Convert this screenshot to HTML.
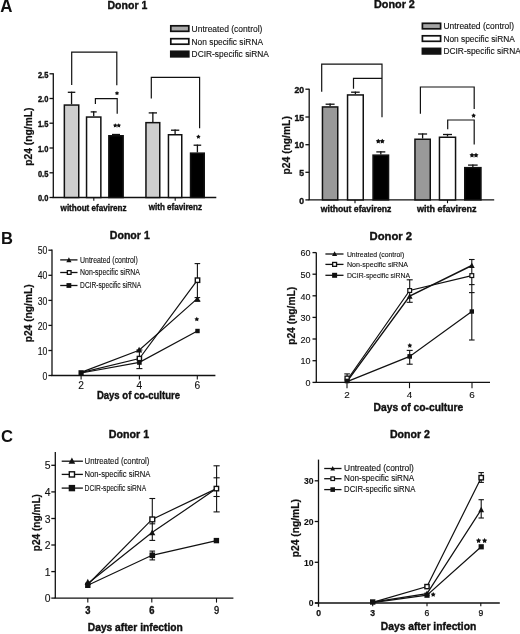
<!DOCTYPE html>
<html><head><meta charset="utf-8"><title>Figure</title>
<style>
html,body{margin:0;padding:0;background:#fff;}
body{width:520px;height:634px;overflow:hidden;}
svg{display:block;will-change:transform;}
svg text{font-family:"Liberation Sans", sans-serif;-webkit-font-smoothing:antialiased;}
</style></head>
<body>
<svg width="520" height="634" viewBox="0 0 520 634">
<rect x="0" y="0" width="520" height="634" fill="#fff"/>
<text x="0.3" y="12.4" font-size="17.8" font-weight="bold" text-anchor="start" fill="#111" textLength="12.2" lengthAdjust="spacingAndGlyphs" stroke="none">A</text>
<text x="1.0" y="243.5" font-size="17.2" font-weight="bold" text-anchor="start" fill="#111" textLength="12.0" lengthAdjust="spacingAndGlyphs" stroke="none">B</text>
<text x="1.0" y="441.8" font-size="17.2" font-weight="bold" text-anchor="start" fill="#111" textLength="12.0" lengthAdjust="spacingAndGlyphs" stroke="none">C</text>
<text x="107.5" y="8.8" font-size="10.5" font-weight="bold" text-anchor="start" fill="#111" textLength="39.8" lengthAdjust="spacingAndGlyphs" stroke="#111" stroke-width="0.38">Donor 1</text>
<rect x="170.8" y="25.8" width="18.0" height="5.5" fill="#aaa" stroke="#111" stroke-width="1.7"/>
<text x="191.6" y="31.9" font-size="8.3" font-weight="normal" text-anchor="start" fill="#111" textLength="70.8" lengthAdjust="spacingAndGlyphs" stroke="#111" stroke-width="0.12">Untreated (control)</text>
<rect x="170.8" y="38.699999999999996" width="18.0" height="5.5" fill="#fff" stroke="#111" stroke-width="1.7"/>
<text x="191.6" y="44.8" font-size="8.3" font-weight="normal" text-anchor="start" fill="#111" textLength="71.4" lengthAdjust="spacingAndGlyphs" stroke="#111" stroke-width="0.12">Non specific siRNA</text>
<rect x="170.8" y="51.3" width="18.0" height="5.5" fill="#111" stroke="#111" stroke-width="1.7"/>
<text x="191.6" y="57.4" font-size="8.3" font-weight="normal" text-anchor="start" fill="#111" textLength="77.3" lengthAdjust="spacingAndGlyphs" stroke="#111" stroke-width="0.12">DCIR-specific siRNA</text>
<line x1="53.3" y1="73.3" x2="53.3" y2="197.5" stroke="#111" stroke-width="1.3"/>
<line x1="49.5" y1="73.8" x2="53.3" y2="73.8" stroke="#111" stroke-width="1.3"/>
<text x="48.3" y="77.6" font-size="8.2" font-weight="bold" text-anchor="end" fill="#111" textLength="10.4" lengthAdjust="spacingAndGlyphs" stroke="#111" stroke-width="0.38">2.5</text>
<line x1="49.5" y1="98.5" x2="53.3" y2="98.5" stroke="#111" stroke-width="1.3"/>
<text x="48.3" y="102.3" font-size="8.2" font-weight="bold" text-anchor="end" fill="#111" textLength="10.4" lengthAdjust="spacingAndGlyphs" stroke="#111" stroke-width="0.38">2.0</text>
<line x1="49.5" y1="123.2" x2="53.3" y2="123.2" stroke="#111" stroke-width="1.3"/>
<text x="48.3" y="127.0" font-size="8.2" font-weight="bold" text-anchor="end" fill="#111" textLength="10.4" lengthAdjust="spacingAndGlyphs" stroke="#111" stroke-width="0.38">1.5</text>
<line x1="49.5" y1="148.0" x2="53.3" y2="148.0" stroke="#111" stroke-width="1.3"/>
<text x="48.3" y="151.8" font-size="8.2" font-weight="bold" text-anchor="end" fill="#111" textLength="10.4" lengthAdjust="spacingAndGlyphs" stroke="#111" stroke-width="0.38">1.0</text>
<line x1="49.5" y1="172.8" x2="53.3" y2="172.8" stroke="#111" stroke-width="1.3"/>
<text x="48.3" y="176.60000000000002" font-size="8.2" font-weight="bold" text-anchor="end" fill="#111" textLength="10.4" lengthAdjust="spacingAndGlyphs" stroke="#111" stroke-width="0.38">0.5</text>
<line x1="49.5" y1="197.5" x2="53.3" y2="197.5" stroke="#111" stroke-width="1.3"/>
<text x="48.3" y="201.3" font-size="8.2" font-weight="bold" text-anchor="end" fill="#111" textLength="10.4" lengthAdjust="spacingAndGlyphs" stroke="#111" stroke-width="0.38">0.0</text>
<line x1="52.6" y1="197.5" x2="216.3" y2="197.5" stroke="#111" stroke-width="1.3"/>
<line x1="93.8" y1="197.5" x2="93.8" y2="200.8" stroke="#111" stroke-width="1.1"/>
<line x1="175.2" y1="197.5" x2="175.2" y2="200.8" stroke="#111" stroke-width="1.1"/>
<text x="60.6" y="210.6" font-size="8.9" font-weight="bold" text-anchor="start" fill="#111" textLength="66" lengthAdjust="spacingAndGlyphs" stroke="#111" stroke-width="0.38">without efavirenz</text>
<text x="148.7" y="210.4" font-size="8.9" font-weight="bold" text-anchor="start" fill="#111" textLength="53.4" lengthAdjust="spacingAndGlyphs" stroke="#111" stroke-width="0.38">with efavirenz</text>
<text x="31.6" y="136.6" font-size="10.3" font-weight="bold" text-anchor="middle" fill="#111" textLength="58.3" lengthAdjust="spacingAndGlyphs" transform="rotate(-90 31.6 136.6)" stroke="#111" stroke-width="0.2">p24 (ng/mL)</text>
<rect x="64.35" y="105.05" width="14.399999999999999" height="92.45" fill="#cecece" stroke="#111" stroke-width="1.5"/>
<line x1="71.55" y1="104.3" x2="71.55" y2="91.7" stroke="#111" stroke-width="1.3"/>
<line x1="67.8" y1="92.3" x2="75.3" y2="92.3" stroke="#111" stroke-width="1.3"/>
<rect x="86.55" y="117.05" width="14.299999999999997" height="80.45" fill="#fff" stroke="#111" stroke-width="1.5"/>
<line x1="93.69999999999999" y1="116.3" x2="93.69999999999999" y2="111.3" stroke="#111" stroke-width="1.3"/>
<line x1="90.69999999999999" y1="111.89999999999999" x2="96.69999999999999" y2="111.89999999999999" stroke="#111" stroke-width="1.3"/>
<rect x="108.85" y="135.75" width="14.300000000000011" height="61.75" fill="#000" stroke="#111" stroke-width="1.5"/>
<line x1="116.0" y1="135.0" x2="116.0" y2="133.9" stroke="#111" stroke-width="1.3"/>
<line x1="112.0" y1="134.5" x2="120.0" y2="134.5" stroke="#111" stroke-width="1.3"/>
<rect x="145.95" y="122.65" width="13.800000000000011" height="74.85" fill="#cecece" stroke="#111" stroke-width="1.5"/>
<line x1="152.85" y1="121.9" x2="152.85" y2="112.3" stroke="#111" stroke-width="1.3"/>
<line x1="148.7" y1="112.89999999999999" x2="157.0" y2="112.89999999999999" stroke="#111" stroke-width="1.3"/>
<rect x="168.45" y="134.75" width="13.300000000000011" height="62.75" fill="#fff" stroke="#111" stroke-width="1.5"/>
<line x1="175.1" y1="134.0" x2="175.1" y2="129.6" stroke="#111" stroke-width="1.3"/>
<line x1="170.95" y1="130.2" x2="179.25" y2="130.2" stroke="#111" stroke-width="1.3"/>
<rect x="190.55" y="153.15" width="13.699999999999989" height="44.349999999999994" fill="#000" stroke="#111" stroke-width="1.5"/>
<line x1="197.4" y1="152.4" x2="197.4" y2="144.6" stroke="#111" stroke-width="1.3"/>
<line x1="193.6" y1="145.2" x2="201.20000000000002" y2="145.2" stroke="#111" stroke-width="1.3"/>
<polyline points="71.7,85.0 71.7,52.2 116.8,52.2 116.8,85.2" fill="none" stroke="#111" stroke-width="1.2" stroke-linejoin="miter"/>
<polyline points="95.4,104.0 95.4,98.6 117.2,98.6 117.2,113.8" fill="none" stroke="#111" stroke-width="1.2" stroke-linejoin="miter"/>
<polyline points="151.3,98.5 151.3,77.3 199.6,77.3 199.6,128.3" fill="none" stroke="#111" stroke-width="1.2" stroke-linejoin="miter"/>
<polygon points="117.00,90.91 117.75,92.20 119.21,92.51 118.22,93.63 118.37,95.11 117.00,94.51 115.63,95.11 115.78,93.63 114.79,92.51 116.25,92.20" fill="#111"/>
<polygon points="115.24,123.21 115.99,124.50 117.45,124.81 116.45,125.93 116.60,127.41 115.24,126.81 113.87,127.41 114.02,125.93 113.03,124.81 114.49,124.50" fill="#111"/>
<polygon points="118.76,123.21 119.51,124.50 120.97,124.81 119.98,125.93 120.13,127.41 118.76,126.81 117.40,127.41 117.55,125.93 116.55,124.81 118.01,124.50" fill="#111"/>
<polygon points="198.40,134.51 199.15,135.80 200.61,136.11 199.62,137.23 199.77,138.71 198.40,138.11 197.03,138.71 197.18,137.23 196.19,136.11 197.65,135.80" fill="#111"/>
<text x="374.0" y="7.8" font-size="10.8" font-weight="bold" text-anchor="start" fill="#111" textLength="40.9" lengthAdjust="spacingAndGlyphs" stroke="#111" stroke-width="0.38">Donor 2</text>
<rect x="422.4" y="23.3" width="18.2" height="5.5" fill="#a5a5a5" stroke="#111" stroke-width="1.7"/>
<text x="443.4" y="29.1" font-size="8.3" font-weight="normal" text-anchor="start" fill="#111" textLength="70.6" lengthAdjust="spacingAndGlyphs" stroke="#111" stroke-width="0.12">Untreated (control)</text>
<rect x="422.4" y="35.8" width="18.2" height="5.5" fill="#fff" stroke="#111" stroke-width="1.7"/>
<text x="443.4" y="41.6" font-size="8.3" font-weight="normal" text-anchor="start" fill="#111" textLength="71.4" lengthAdjust="spacingAndGlyphs" stroke="#111" stroke-width="0.12">Non specific siRNA</text>
<rect x="422.4" y="48.4" width="18.2" height="5.5" fill="#111" stroke="#111" stroke-width="1.7"/>
<text x="443.4" y="54.2" font-size="8.3" font-weight="normal" text-anchor="start" fill="#111" textLength="77.4" lengthAdjust="spacingAndGlyphs" stroke="#111" stroke-width="0.12">DCIR-specific siRNA</text>
<line x1="309.2" y1="88.7" x2="309.2" y2="199.9" stroke="#111" stroke-width="1.3"/>
<line x1="305.4" y1="89.2" x2="309.2" y2="89.2" stroke="#111" stroke-width="1.3"/>
<text x="304.1" y="92.8" font-size="8.6" font-weight="bold" text-anchor="end" fill="#111" textLength="9.6" lengthAdjust="spacingAndGlyphs" stroke="#111" stroke-width="0.38">20</text>
<line x1="305.4" y1="117.0" x2="309.2" y2="117.0" stroke="#111" stroke-width="1.3"/>
<text x="304.1" y="120.6" font-size="8.6" font-weight="bold" text-anchor="end" fill="#111" textLength="9.6" lengthAdjust="spacingAndGlyphs" stroke="#111" stroke-width="0.38">15</text>
<line x1="305.4" y1="144.7" x2="309.2" y2="144.7" stroke="#111" stroke-width="1.3"/>
<text x="304.1" y="148.29999999999998" font-size="8.6" font-weight="bold" text-anchor="end" fill="#111" textLength="9.6" lengthAdjust="spacingAndGlyphs" stroke="#111" stroke-width="0.38">10</text>
<line x1="305.4" y1="172.3" x2="309.2" y2="172.3" stroke="#111" stroke-width="1.3"/>
<text x="304.1" y="175.9" font-size="8.6" font-weight="bold" text-anchor="end" fill="#111" textLength="4.8" lengthAdjust="spacingAndGlyphs" stroke="#111" stroke-width="0.38">5</text>
<line x1="305.4" y1="199.9" x2="309.2" y2="199.9" stroke="#111" stroke-width="1.3"/>
<text x="304.1" y="203.5" font-size="8.6" font-weight="bold" text-anchor="end" fill="#111" textLength="4.8" lengthAdjust="spacingAndGlyphs" stroke="#111" stroke-width="0.38">0</text>
<line x1="308.5" y1="199.9" x2="494.2" y2="199.9" stroke="#111" stroke-width="1.3"/>
<line x1="355.0" y1="199.9" x2="355.0" y2="203.2" stroke="#111" stroke-width="1.1"/>
<line x1="447.5" y1="199.9" x2="447.5" y2="203.2" stroke="#111" stroke-width="1.1"/>
<text x="320.8" y="211.7" font-size="8.8" font-weight="bold" text-anchor="start" fill="#111" textLength="70.5" lengthAdjust="spacingAndGlyphs" stroke="#111" stroke-width="0.38">without efavirenz</text>
<text x="417.0" y="211.7" font-size="8.8" font-weight="bold" text-anchor="start" fill="#111" textLength="59.5" lengthAdjust="spacingAndGlyphs" stroke="#111" stroke-width="0.38">with efavirenz</text>
<text x="290.0" y="145.3" font-size="10.3" font-weight="bold" text-anchor="middle" fill="#111" textLength="58.3" lengthAdjust="spacingAndGlyphs" transform="rotate(-90 290.0 145.3)" stroke="#111" stroke-width="0.2">p24 (ng/mL)</text>
<rect x="322.45" y="106.95" width="15.300000000000011" height="92.95" fill="#999" stroke="#111" stroke-width="1.5"/>
<line x1="330.1" y1="106.2" x2="330.1" y2="103.6" stroke="#111" stroke-width="1.3"/>
<line x1="325.6" y1="104.19999999999999" x2="334.6" y2="104.19999999999999" stroke="#111" stroke-width="1.3"/>
<rect x="347.55" y="94.95" width="15.699999999999989" height="104.95" fill="#fff" stroke="#111" stroke-width="1.5"/>
<line x1="355.4" y1="94.2" x2="355.4" y2="91.6" stroke="#111" stroke-width="1.3"/>
<line x1="351.09999999999997" y1="92.19999999999999" x2="359.7" y2="92.19999999999999" stroke="#111" stroke-width="1.3"/>
<rect x="373.05" y="155.15" width="15.5" height="44.75" fill="#000" stroke="#111" stroke-width="1.5"/>
<line x1="380.8" y1="154.4" x2="380.8" y2="151.3" stroke="#111" stroke-width="1.3"/>
<line x1="376.3" y1="151.9" x2="385.3" y2="151.9" stroke="#111" stroke-width="1.3"/>
<rect x="414.95" y="139.25" width="15.300000000000011" height="60.650000000000006" fill="#999" stroke="#111" stroke-width="1.5"/>
<line x1="422.6" y1="138.5" x2="422.6" y2="133.4" stroke="#111" stroke-width="1.3"/>
<line x1="418.1" y1="134.0" x2="427.1" y2="134.0" stroke="#111" stroke-width="1.3"/>
<rect x="439.45" y="137.25" width="16.100000000000023" height="62.650000000000006" fill="#fff" stroke="#111" stroke-width="1.5"/>
<line x1="447.5" y1="136.5" x2="447.5" y2="133.9" stroke="#111" stroke-width="1.3"/>
<line x1="443.0" y1="134.5" x2="452.0" y2="134.5" stroke="#111" stroke-width="1.3"/>
<rect x="464.75" y="167.65" width="16.19999999999999" height="32.25" fill="#000" stroke="#111" stroke-width="1.5"/>
<line x1="472.85" y1="166.9" x2="472.85" y2="164.5" stroke="#111" stroke-width="1.3"/>
<line x1="468.05" y1="165.1" x2="477.65000000000003" y2="165.1" stroke="#111" stroke-width="1.3"/>
<polyline points="321.7,91.7 321.7,64.2 382.0,64.2 382.0,117.3" fill="none" stroke="#111" stroke-width="1.2" stroke-linejoin="miter"/>
<polyline points="353.5,88.8 353.5,78.3 382.0,78.3" fill="none" stroke="#111" stroke-width="1.2" stroke-linejoin="miter"/>
<polyline points="420.4,113.8 420.4,87.0 474.2,87.0 474.2,109.0" fill="none" stroke="#111" stroke-width="1.2" stroke-linejoin="miter"/>
<polyline points="447.7,129.2 447.7,120.0 474.2,120.0 474.2,144.6" fill="none" stroke="#111" stroke-width="1.2" stroke-linejoin="miter"/>
<polygon points="378.30,138.63 379.15,140.09 380.81,140.45 379.68,141.71 379.85,143.40 378.30,142.71 376.75,143.40 376.92,141.71 375.80,140.45 377.45,140.09" fill="#111"/>
<polygon points="382.30,138.63 383.15,140.09 384.80,140.45 383.68,141.71 383.85,143.40 382.30,142.71 380.75,143.40 380.92,141.71 379.79,140.45 381.45,140.09" fill="#111"/>
<polygon points="473.60,113.17 474.40,114.54 475.96,114.88 474.90,116.07 475.06,117.65 473.60,117.01 472.14,117.65 472.30,116.07 471.24,114.88 472.80,114.54" fill="#111"/>
<polygon points="472.00,152.63 472.85,154.09 474.51,154.45 473.38,155.71 473.55,157.40 472.00,156.71 470.45,157.40 470.62,155.71 469.50,154.45 471.15,154.09" fill="#111"/>
<polygon points="476.00,152.63 476.85,154.09 478.50,154.45 477.38,155.71 477.55,157.40 476.00,156.71 474.45,157.40 474.62,155.71 473.49,154.45 475.15,154.09" fill="#111"/>
<text x="109.8" y="239.1" font-size="10.6" font-weight="bold" text-anchor="start" fill="#111" textLength="40.0" lengthAdjust="spacingAndGlyphs" stroke="#111" stroke-width="0.38">Donor 1</text>
<line x1="52.0" y1="249.5" x2="52.0" y2="375.5" stroke="#111" stroke-width="1.3"/>
<line x1="48.4" y1="250.2" x2="52.0" y2="250.2" stroke="#111" stroke-width="1.3"/>
<text x="47.4" y="254.29999999999998" font-size="10.0" font-weight="normal" text-anchor="end" fill="#111" textLength="9.6" lengthAdjust="spacingAndGlyphs" stroke="#111" stroke-width="0.12">50</text>
<line x1="48.4" y1="275.3" x2="52.0" y2="275.3" stroke="#111" stroke-width="1.3"/>
<text x="47.4" y="279.40000000000003" font-size="10.0" font-weight="normal" text-anchor="end" fill="#111" textLength="9.6" lengthAdjust="spacingAndGlyphs" stroke="#111" stroke-width="0.12">40</text>
<line x1="48.4" y1="300.4" x2="52.0" y2="300.4" stroke="#111" stroke-width="1.3"/>
<text x="47.4" y="304.5" font-size="10.0" font-weight="normal" text-anchor="end" fill="#111" textLength="9.6" lengthAdjust="spacingAndGlyphs" stroke="#111" stroke-width="0.12">30</text>
<line x1="48.4" y1="325.4" x2="52.0" y2="325.4" stroke="#111" stroke-width="1.3"/>
<text x="47.4" y="329.5" font-size="10.0" font-weight="normal" text-anchor="end" fill="#111" textLength="9.6" lengthAdjust="spacingAndGlyphs" stroke="#111" stroke-width="0.12">20</text>
<line x1="48.4" y1="350.5" x2="52.0" y2="350.5" stroke="#111" stroke-width="1.3"/>
<text x="47.4" y="354.6" font-size="10.0" font-weight="normal" text-anchor="end" fill="#111" textLength="9.6" lengthAdjust="spacingAndGlyphs" stroke="#111" stroke-width="0.12">10</text>
<line x1="48.4" y1="375.5" x2="52.0" y2="375.5" stroke="#111" stroke-width="1.3"/>
<text x="47.4" y="379.6" font-size="10.0" font-weight="normal" text-anchor="end" fill="#111" textLength="4.8" lengthAdjust="spacingAndGlyphs" stroke="#111" stroke-width="0.12">0</text>
<line x1="51.3" y1="375.5" x2="215.4" y2="375.5" stroke="#111" stroke-width="1.3"/>
<line x1="81.1" y1="375.5" x2="81.1" y2="379.4" stroke="#111" stroke-width="1.1"/>
<text x="81.1" y="389.0" font-size="10.2" font-weight="normal" text-anchor="middle" fill="#111" stroke="#111" stroke-width="0.12">2</text>
<line x1="139.4" y1="375.5" x2="139.4" y2="379.4" stroke="#111" stroke-width="1.1"/>
<text x="139.4" y="389.0" font-size="10.2" font-weight="normal" text-anchor="middle" fill="#111" stroke="#111" stroke-width="0.12">4</text>
<line x1="197.3" y1="375.5" x2="197.3" y2="379.4" stroke="#111" stroke-width="1.1"/>
<text x="197.3" y="389.0" font-size="10.2" font-weight="normal" text-anchor="middle" fill="#111" stroke="#111" stroke-width="0.12">6</text>
<text x="96.9" y="398.9" font-size="10.4" font-weight="bold" text-anchor="start" fill="#111" textLength="83.1" lengthAdjust="spacingAndGlyphs" stroke="#111" stroke-width="0.38">Days of co-culture</text>
<text x="31.6" y="313.3" font-size="10.3" font-weight="bold" text-anchor="middle" fill="#111" textLength="58.1" lengthAdjust="spacingAndGlyphs" transform="rotate(-90 31.6 313.3)" stroke="#111" stroke-width="0.2">p24 (ng/mL)</text>
<line x1="60.2" y1="259.9" x2="77.5" y2="259.9" stroke="#111" stroke-width="1.3"/>
<polygon points="66.30000000000001,262.17 71.5,262.17 68.9,257.22999999999996" fill="#111"/>
<text x="80.1" y="262.7" font-size="8.4" font-weight="normal" text-anchor="start" fill="#111" textLength="57.6" lengthAdjust="spacingAndGlyphs" stroke="#111" stroke-width="0.12">Untreated (control)</text>
<line x1="60.2" y1="272.5" x2="77.5" y2="272.5" stroke="#111" stroke-width="1.3"/>
<rect x="67.35000000000001" y="270.65" width="3.7" height="3.7" fill="#fff" stroke="#111" stroke-width="1.3"/>
<text x="80.1" y="275.3" font-size="8.4" font-weight="normal" text-anchor="start" fill="#111" textLength="59.7" lengthAdjust="spacingAndGlyphs" stroke="#111" stroke-width="0.12">Non-specific siRNA</text>
<line x1="60.2" y1="285.5" x2="77.5" y2="285.5" stroke="#111" stroke-width="1.3"/>
<rect x="66.5" y="283.1" width="4.8" height="4.8" fill="#111"/>
<text x="80.1" y="288.3" font-size="8.4" font-weight="normal" text-anchor="start" fill="#111" textLength="61.1" lengthAdjust="spacingAndGlyphs" stroke="#111" stroke-width="0.12">DCIR-specific siRNA</text>
<polyline points="81.1,372.4 139.1,350.2 197.3,298.6" fill="none" stroke="#111" stroke-width="1.2" stroke-linejoin="miter"/>
<polyline points="81.1,372.7 139.4,358.5 197.4,280.2" fill="none" stroke="#111" stroke-width="1.2" stroke-linejoin="miter"/>
<polyline points="81.1,373.0 139.4,362.4 197.4,331.0" fill="none" stroke="#111" stroke-width="1.2" stroke-linejoin="miter"/>
<line x1="139.4" y1="350.0" x2="139.4" y2="368.6" stroke="#111" stroke-width="1.1"/>
<line x1="136.4" y1="350.0" x2="142.4" y2="350.0" stroke="#111" stroke-width="1.1"/>
<line x1="136.4" y1="368.6" x2="142.4" y2="368.6" stroke="#111" stroke-width="1.1"/>
<line x1="197.4" y1="263.6" x2="197.4" y2="297.6" stroke="#111" stroke-width="1.1"/>
<line x1="194.6" y1="263.6" x2="200.20000000000002" y2="263.6" stroke="#111" stroke-width="1.1"/>
<line x1="194.6" y1="297.6" x2="200.20000000000002" y2="297.6" stroke="#111" stroke-width="1.1"/>
<line x1="194.6" y1="301.0" x2="200.20000000000002" y2="301.0" stroke="#111" stroke-width="1.1"/>
<polygon points="136.0,352.545 142.2,352.545 139.1,346.65500000000003" fill="#111"/>
<rect x="137.29999999999998" y="356.4" width="4.199999999999999" height="4.199999999999999" fill="#fff" stroke="#111" stroke-width="1.4"/>
<rect x="137.1" y="360.2" width="4.6" height="4.6" fill="#111"/>
<polygon points="194.3,301.745 200.5,301.745 197.4,295.855" fill="#111"/>
<rect x="195.29999999999998" y="278.0" width="4.4" height="4.4" fill="#fff" stroke="#111" stroke-width="1.4"/>
<rect x="195.3" y="328.8" width="4.4" height="4.4" fill="#111"/>
<rect x="78.5" y="370.2" width="5.2" height="5.2" fill="#111"/>
<polygon points="196.80,316.77 197.60,318.14 199.16,318.48 198.10,319.67 198.26,321.25 196.80,320.61 195.34,321.25 195.50,319.67 194.44,318.48 196.00,318.14" fill="#111"/>
<text x="369.5" y="239.8" font-size="11.0" font-weight="bold" text-anchor="start" fill="#111" textLength="42.6" lengthAdjust="spacingAndGlyphs" stroke="#111" stroke-width="0.38">Donor 2</text>
<line x1="316.3" y1="252.4" x2="316.3" y2="382.4" stroke="#111" stroke-width="1.3"/>
<line x1="312.5" y1="252.6" x2="316.3" y2="252.6" stroke="#111" stroke-width="1.3"/>
<text x="310.6" y="256.3" font-size="9.5" font-weight="normal" text-anchor="end" fill="#111" textLength="10.0" lengthAdjust="spacingAndGlyphs" stroke="#111" stroke-width="0.12">60</text>
<line x1="312.5" y1="274.2" x2="316.3" y2="274.2" stroke="#111" stroke-width="1.3"/>
<text x="310.6" y="277.9" font-size="9.5" font-weight="normal" text-anchor="end" fill="#111" textLength="10.0" lengthAdjust="spacingAndGlyphs" stroke="#111" stroke-width="0.12">50</text>
<line x1="312.5" y1="295.8" x2="316.3" y2="295.8" stroke="#111" stroke-width="1.3"/>
<text x="310.6" y="299.5" font-size="9.5" font-weight="normal" text-anchor="end" fill="#111" textLength="10.0" lengthAdjust="spacingAndGlyphs" stroke="#111" stroke-width="0.12">40</text>
<line x1="312.5" y1="317.4" x2="316.3" y2="317.4" stroke="#111" stroke-width="1.3"/>
<text x="310.6" y="321.09999999999997" font-size="9.5" font-weight="normal" text-anchor="end" fill="#111" textLength="10.0" lengthAdjust="spacingAndGlyphs" stroke="#111" stroke-width="0.12">30</text>
<line x1="312.5" y1="339.0" x2="316.3" y2="339.0" stroke="#111" stroke-width="1.3"/>
<text x="310.6" y="342.7" font-size="9.5" font-weight="normal" text-anchor="end" fill="#111" textLength="10.0" lengthAdjust="spacingAndGlyphs" stroke="#111" stroke-width="0.12">20</text>
<line x1="312.5" y1="360.7" x2="316.3" y2="360.7" stroke="#111" stroke-width="1.3"/>
<text x="310.6" y="364.4" font-size="9.5" font-weight="normal" text-anchor="end" fill="#111" textLength="10.0" lengthAdjust="spacingAndGlyphs" stroke="#111" stroke-width="0.12">10</text>
<line x1="312.5" y1="382.4" x2="316.3" y2="382.4" stroke="#111" stroke-width="1.3"/>
<text x="310.6" y="386.09999999999997" font-size="9.5" font-weight="normal" text-anchor="end" fill="#111" textLength="5.0" lengthAdjust="spacingAndGlyphs" stroke="#111" stroke-width="0.12">0</text>
<line x1="315.6" y1="382.4" x2="490.0" y2="382.4" stroke="#111" stroke-width="1.3"/>
<line x1="347.0" y1="382.4" x2="347.0" y2="388.2" stroke="#111" stroke-width="1.1"/>
<text x="347.0" y="397.6" font-size="9.9" font-weight="normal" text-anchor="middle" fill="#111" stroke="#111" stroke-width="0.12">2</text>
<line x1="409.5" y1="382.4" x2="409.5" y2="388.2" stroke="#111" stroke-width="1.1"/>
<text x="409.5" y="397.6" font-size="9.9" font-weight="normal" text-anchor="middle" fill="#111" stroke="#111" stroke-width="0.12">4</text>
<line x1="472.0" y1="382.4" x2="472.0" y2="388.2" stroke="#111" stroke-width="1.1"/>
<text x="472.0" y="397.6" font-size="9.9" font-weight="normal" text-anchor="middle" fill="#111" stroke="#111" stroke-width="0.12">6</text>
<text x="373.5" y="411.4" font-size="10.3" font-weight="bold" text-anchor="start" fill="#111" textLength="89.8" lengthAdjust="spacingAndGlyphs" stroke="#111" stroke-width="0.38">Days of co-culture</text>
<text x="295.2" y="315.8" font-size="10.3" font-weight="bold" text-anchor="middle" fill="#111" textLength="58.1" lengthAdjust="spacingAndGlyphs" transform="rotate(-90 295.2 315.8)" stroke="#111" stroke-width="0.2">p24 (ng/mL)</text>
<line x1="325.4" y1="254.0" x2="343.5" y2="254.0" stroke="#111" stroke-width="1.3"/>
<polygon points="332.0,256.07 337.20000000000005,256.07 334.6,251.13" fill="#111"/>
<text x="346.9" y="256.8" font-size="7.9" font-weight="normal" text-anchor="start" fill="#111" textLength="57.3" lengthAdjust="spacingAndGlyphs" stroke="#111" stroke-width="0.12">Untreated (control)</text>
<line x1="325.4" y1="264.4" x2="343.5" y2="264.4" stroke="#111" stroke-width="1.3"/>
<rect x="332.65" y="262.44999999999993" width="3.9000000000000004" height="3.9000000000000004" fill="#fff" stroke="#111" stroke-width="1.3"/>
<text x="346.9" y="267.2" font-size="7.9" font-weight="normal" text-anchor="start" fill="#111" textLength="61.1" lengthAdjust="spacingAndGlyphs" stroke="#111" stroke-width="0.12">Non-specific siRNA</text>
<line x1="325.4" y1="275.3" x2="343.5" y2="275.3" stroke="#111" stroke-width="1.3"/>
<rect x="332.1" y="272.8" width="5.0" height="5.0" fill="#111"/>
<text x="346.9" y="278.1" font-size="7.9" font-weight="normal" text-anchor="start" fill="#111" textLength="63.1" lengthAdjust="spacingAndGlyphs" stroke="#111" stroke-width="0.12">DCIR-specific siRNA</text>
<polyline points="347.1,381.3 409.7,296.0 471.8,265.5" fill="none" stroke="#111" stroke-width="1.4" stroke-linejoin="miter"/>
<polyline points="347.1,380.0 409.7,290.5 471.8,275.6" fill="none" stroke="#111" stroke-width="1.2" stroke-linejoin="miter"/>
<polyline points="347.1,381.6 409.7,356.4 471.8,311.5" fill="none" stroke="#111" stroke-width="1.2" stroke-linejoin="miter"/>
<line x1="347.1" y1="373.9" x2="347.1" y2="382.0" stroke="#111" stroke-width="1.1"/>
<line x1="344.3" y1="373.9" x2="349.90000000000003" y2="373.9" stroke="#111" stroke-width="1.1"/>
<line x1="344.3" y1="382.0" x2="349.90000000000003" y2="382.0" stroke="#111" stroke-width="1.1"/>
<line x1="409.7" y1="279.8" x2="409.7" y2="302.3" stroke="#111" stroke-width="1.1"/>
<line x1="406.7" y1="279.8" x2="412.7" y2="279.8" stroke="#111" stroke-width="1.1"/>
<line x1="406.7" y1="302.3" x2="412.7" y2="302.3" stroke="#111" stroke-width="1.1"/>
<line x1="409.7" y1="350.4" x2="409.7" y2="364.2" stroke="#111" stroke-width="1.1"/>
<line x1="406.7" y1="350.4" x2="412.7" y2="350.4" stroke="#111" stroke-width="1.1"/>
<line x1="406.7" y1="364.2" x2="412.7" y2="364.2" stroke="#111" stroke-width="1.1"/>
<line x1="471.8" y1="259.5" x2="471.8" y2="340.0" stroke="#111" stroke-width="1.1"/>
<line x1="469.0" y1="259.5" x2="474.6" y2="259.5" stroke="#111" stroke-width="1.1"/>
<line x1="469.0" y1="340.0" x2="474.6" y2="340.0" stroke="#111" stroke-width="1.1"/>
<line x1="469.0" y1="284.6" x2="474.6" y2="284.6" stroke="#111" stroke-width="1.1"/>
<line x1="469.0" y1="292.6" x2="474.6" y2="292.6" stroke="#111" stroke-width="1.1"/>
<rect x="345.05" y="376.15" width="4.1000000000000005" height="4.1000000000000005" fill="#fff" stroke="#111" stroke-width="1.3"/>
<rect x="344.8" y="378.7" width="4.6" height="4.6" fill="#111"/>
<polygon points="406.8,298.755 412.59999999999997,298.755 409.7,293.245" fill="#111"/>
<rect x="407.8" y="288.6" width="3.8" height="3.8" fill="#fff" stroke="#111" stroke-width="1.2"/>
<rect x="407.4" y="354.09999999999997" width="4.6" height="4.6" fill="#111"/>
<polygon points="468.90000000000003,268.055 474.7,268.055 471.8,262.545" fill="#111"/>
<rect x="469.90000000000003" y="273.70000000000005" width="3.8" height="3.8" fill="#fff" stroke="#111" stroke-width="1.2"/>
<rect x="469.6" y="309.3" width="4.4" height="4.4" fill="#111"/>
<polygon points="409.80,343.11 410.62,344.52 412.22,344.87 411.13,346.09 411.29,347.71 409.80,347.05 408.31,347.71 408.47,346.09 407.38,344.87 408.98,344.52" fill="#111"/>
<text x="108.8" y="437.8" font-size="10.7" font-weight="bold" text-anchor="start" fill="#111" textLength="40.4" lengthAdjust="spacingAndGlyphs" stroke="#111" stroke-width="0.38">Donor 1</text>
<line x1="55.3" y1="452.0" x2="55.3" y2="598.1" stroke="#111" stroke-width="1.3"/>
<line x1="51.3" y1="465.3" x2="55.3" y2="465.3" stroke="#111" stroke-width="1.3"/>
<text x="50.5" y="469.3" font-size="10.4" font-weight="normal" text-anchor="end" fill="#111" stroke="#111" stroke-width="0.12">5</text>
<line x1="51.3" y1="491.9" x2="55.3" y2="491.9" stroke="#111" stroke-width="1.3"/>
<text x="50.5" y="495.9" font-size="10.4" font-weight="normal" text-anchor="end" fill="#111" stroke="#111" stroke-width="0.12">4</text>
<line x1="51.3" y1="518.5" x2="55.3" y2="518.5" stroke="#111" stroke-width="1.3"/>
<text x="50.5" y="522.5" font-size="10.4" font-weight="normal" text-anchor="end" fill="#111" stroke="#111" stroke-width="0.12">3</text>
<line x1="51.3" y1="545.0" x2="55.3" y2="545.0" stroke="#111" stroke-width="1.3"/>
<text x="50.5" y="549.0" font-size="10.4" font-weight="normal" text-anchor="end" fill="#111" stroke="#111" stroke-width="0.12">2</text>
<line x1="51.3" y1="571.6" x2="55.3" y2="571.6" stroke="#111" stroke-width="1.3"/>
<text x="50.5" y="575.6" font-size="10.4" font-weight="normal" text-anchor="end" fill="#111" stroke="#111" stroke-width="0.12">1</text>
<line x1="51.3" y1="598.1" x2="55.3" y2="598.1" stroke="#111" stroke-width="1.3"/>
<text x="50.5" y="602.1" font-size="10.4" font-weight="normal" text-anchor="end" fill="#111" stroke="#111" stroke-width="0.12">0</text>
<line x1="54.6" y1="598.1" x2="233.4" y2="598.1" stroke="#111" stroke-width="1.3"/>
<line x1="87.8" y1="598.1" x2="87.8" y2="602.6" stroke="#111" stroke-width="1.1"/>
<text x="87.8" y="613.7" font-size="10.0" font-weight="bold" text-anchor="middle" fill="#111" textLength="5.2" lengthAdjust="spacingAndGlyphs" stroke="#111" stroke-width="0.38">3</text>
<line x1="151.8" y1="598.1" x2="151.8" y2="602.6" stroke="#111" stroke-width="1.1"/>
<text x="151.8" y="613.7" font-size="10.0" font-weight="bold" text-anchor="middle" fill="#111" textLength="5.2" lengthAdjust="spacingAndGlyphs" stroke="#111" stroke-width="0.38">6</text>
<line x1="216.5" y1="598.1" x2="216.5" y2="602.6" stroke="#111" stroke-width="1.1"/>
<text x="216.5" y="613.7" font-size="10.0" font-weight="normal" text-anchor="middle" fill="#111" textLength="5.2" lengthAdjust="spacingAndGlyphs" stroke="#111" stroke-width="0.35">9</text>
<text x="87.8" y="630.7" font-size="10.4" font-weight="bold" text-anchor="start" fill="#111" textLength="95.0" lengthAdjust="spacingAndGlyphs" stroke="#111" stroke-width="0.38">Days after infection</text>
<text x="40.0" y="522.6" font-size="10.3" font-weight="bold" text-anchor="middle" fill="#111" textLength="57.1" lengthAdjust="spacingAndGlyphs" transform="rotate(-90 40.0 522.6)" stroke="#111" stroke-width="0.2">p24 (ng/mL)</text>
<line x1="61.7" y1="461.2" x2="82.9" y2="461.2" stroke="#111" stroke-width="1.3"/>
<polygon points="68.60000000000001,463.73499999999996 75.2,463.73499999999996 71.9,457.465" fill="#111"/>
<text x="84.6" y="464.2" font-size="8.9" font-weight="normal" text-anchor="start" fill="#111" textLength="64.8" lengthAdjust="spacingAndGlyphs" stroke="#111" stroke-width="0.12">Untreated (control)</text>
<line x1="61.7" y1="474.4" x2="82.9" y2="474.4" stroke="#111" stroke-width="1.3"/>
<rect x="69.30000000000001" y="471.79999999999995" width="5.199999999999999" height="5.199999999999999" fill="#fff" stroke="#111" stroke-width="1.4"/>
<text x="84.6" y="477.4" font-size="8.9" font-weight="normal" text-anchor="start" fill="#111" textLength="65.8" lengthAdjust="spacingAndGlyphs" stroke="#111" stroke-width="0.12">Non-specific siRNA</text>
<line x1="61.7" y1="488.1" x2="82.9" y2="488.1" stroke="#111" stroke-width="1.3"/>
<rect x="68.7" y="484.90000000000003" width="6.4" height="6.4" fill="#111"/>
<text x="84.6" y="491.1" font-size="8.9" font-weight="normal" text-anchor="start" fill="#111" textLength="61.5" lengthAdjust="spacingAndGlyphs" stroke="#111" stroke-width="0.12">DCIR-specific siRNA</text>
<polyline points="87.8,583.5 152.0,532.6 216.5,488.6" fill="none" stroke="#111" stroke-width="1.2" stroke-linejoin="miter"/>
<polyline points="87.8,584.5 152.0,519.4 216.5,488.6" fill="none" stroke="#111" stroke-width="1.2" stroke-linejoin="miter"/>
<polyline points="87.8,585.3 152.0,555.3 216.5,540.6" fill="none" stroke="#111" stroke-width="1.2" stroke-linejoin="miter"/>
<line x1="152.3" y1="498.5" x2="152.3" y2="540.4" stroke="#111" stroke-width="1.1"/>
<line x1="149.4" y1="498.5" x2="155.20000000000002" y2="498.5" stroke="#111" stroke-width="1.1"/>
<line x1="149.4" y1="540.4" x2="155.20000000000002" y2="540.4" stroke="#111" stroke-width="1.1"/>
<line x1="149.4" y1="523.8" x2="155.20000000000002" y2="523.8" stroke="#111" stroke-width="1.1"/>
<line x1="152.3" y1="551.1" x2="152.3" y2="559.9" stroke="#111" stroke-width="1.1"/>
<line x1="149.5" y1="551.1" x2="155.10000000000002" y2="551.1" stroke="#111" stroke-width="1.1"/>
<line x1="149.5" y1="559.9" x2="155.10000000000002" y2="559.9" stroke="#111" stroke-width="1.1"/>
<line x1="216.6" y1="465.8" x2="216.6" y2="511.9" stroke="#111" stroke-width="1.1"/>
<line x1="213.5" y1="465.8" x2="219.7" y2="465.8" stroke="#111" stroke-width="1.1"/>
<line x1="213.5" y1="511.9" x2="219.7" y2="511.9" stroke="#111" stroke-width="1.1"/>
<line x1="213.5" y1="477.8" x2="219.7" y2="477.8" stroke="#111" stroke-width="1.1"/>
<line x1="213.5" y1="496.5" x2="219.7" y2="496.5" stroke="#111" stroke-width="1.1"/>
<polygon points="84.6,584.9399999999999 91.0,584.9399999999999 87.8,578.86" fill="#111"/>
<rect x="85.1" y="582.5999999999999" width="5.4" height="5.4" fill="#111"/>
<polygon points="149.1,535.345 155.29999999999998,535.345 152.2,529.4549999999999" fill="#111"/>
<rect x="149.9" y="517.0" width="4.800000000000001" height="4.800000000000001" fill="#fff" stroke="#111" stroke-width="1.4"/>
<rect x="149.5" y="552.5" width="5.6" height="5.6" fill="#111"/>
<rect x="214.2" y="486.40000000000003" width="4.4" height="4.4" fill="#fff" stroke="#111" stroke-width="1.4"/>
<rect x="213.70000000000002" y="537.9" width="5.4" height="5.4" fill="#111"/>
<text x="389.9" y="437.8" font-size="10.7" font-weight="bold" text-anchor="start" fill="#111" textLength="40.0" lengthAdjust="spacingAndGlyphs" stroke="#111" stroke-width="0.38">Donor 2</text>
<line x1="318.5" y1="459.6" x2="318.5" y2="606.8" stroke="#111" stroke-width="1.3"/>
<line x1="314.7" y1="480.8" x2="318.5" y2="480.8" stroke="#111" stroke-width="1.3"/>
<text x="313.6" y="484.0" font-size="8.6" font-weight="bold" text-anchor="end" fill="#111" textLength="9.6" lengthAdjust="spacingAndGlyphs" stroke="#111" stroke-width="0.1">30</text>
<line x1="314.7" y1="521.5" x2="318.5" y2="521.5" stroke="#111" stroke-width="1.3"/>
<text x="313.6" y="524.7" font-size="8.6" font-weight="bold" text-anchor="end" fill="#111" textLength="9.6" lengthAdjust="spacingAndGlyphs" stroke="#111" stroke-width="0.1">20</text>
<line x1="314.7" y1="562.3" x2="318.5" y2="562.3" stroke="#111" stroke-width="1.3"/>
<text x="313.6" y="565.5" font-size="8.6" font-weight="bold" text-anchor="end" fill="#111" textLength="9.6" lengthAdjust="spacingAndGlyphs" stroke="#111" stroke-width="0.1">10</text>
<line x1="314.7" y1="603.0" x2="318.5" y2="603.0" stroke="#111" stroke-width="1.3"/>
<text x="313.6" y="606.2" font-size="8.6" font-weight="bold" text-anchor="end" fill="#111" textLength="4.8" lengthAdjust="spacingAndGlyphs" stroke="#111" stroke-width="0.1">0</text>
<line x1="315.0" y1="603.0" x2="499.8" y2="603.0" stroke="#111" stroke-width="1.3"/>
<text x="318.7" y="616.0" font-size="8.6" font-weight="bold" text-anchor="middle" fill="#111" stroke="#111" stroke-width="0.25">0</text>
<line x1="372.7" y1="603.0" x2="372.7" y2="606.2" stroke="#111" stroke-width="1.1"/>
<text x="372.7" y="616.0" font-size="8.6" font-weight="bold" text-anchor="middle" fill="#111" stroke="#111" stroke-width="0.25">3</text>
<line x1="427.0" y1="603.0" x2="427.0" y2="606.2" stroke="#111" stroke-width="1.1"/>
<text x="427.0" y="616.0" font-size="8.6" font-weight="normal" text-anchor="middle" fill="#111" stroke="#111" stroke-width="0.25">6</text>
<line x1="480.8" y1="603.0" x2="480.8" y2="606.2" stroke="#111" stroke-width="1.1"/>
<text x="480.8" y="616.0" font-size="8.6" font-weight="normal" text-anchor="middle" fill="#111" stroke="#111" stroke-width="0.25">9</text>
<text x="380.8" y="629.6" font-size="10.2" font-weight="bold" text-anchor="start" fill="#111" textLength="95.4" lengthAdjust="spacingAndGlyphs" stroke="#111" stroke-width="0.38">Days after infection</text>
<text x="299.5" y="528.2" font-size="10.3" font-weight="bold" text-anchor="middle" fill="#111" textLength="58.0" lengthAdjust="spacingAndGlyphs" transform="rotate(-90 299.5 528.2)" stroke="#111" stroke-width="0.2">p24 (ng/mL)</text>
<line x1="324.2" y1="468.5" x2="341.5" y2="468.5" stroke="#111" stroke-width="1.3"/>
<polygon points="330.4,470.385 335.0,470.385 332.7,466.015" fill="#111"/>
<text x="344.1" y="471.1" font-size="8.2" font-weight="normal" text-anchor="start" fill="#111" textLength="69.8" lengthAdjust="spacingAndGlyphs" stroke="#111" stroke-width="0.12">Untreated (control)</text>
<line x1="324.2" y1="478.7" x2="341.5" y2="478.7" stroke="#111" stroke-width="1.3"/>
<rect x="330.90000000000003" y="476.90000000000003" width="3.5999999999999996" height="3.5999999999999996" fill="#fff" stroke="#111" stroke-width="1.2"/>
<text x="344.1" y="481.3" font-size="8.2" font-weight="normal" text-anchor="start" fill="#111" textLength="70.2" lengthAdjust="spacingAndGlyphs" stroke="#111" stroke-width="0.12">Non-specific siRNA</text>
<line x1="324.2" y1="489.6" x2="341.5" y2="489.6" stroke="#111" stroke-width="1.3"/>
<rect x="330.4" y="487.3" width="4.6" height="4.6" fill="#111"/>
<text x="344.1" y="492.20000000000005" font-size="8.2" font-weight="normal" text-anchor="start" fill="#111" textLength="71.2" lengthAdjust="spacingAndGlyphs" stroke="#111" stroke-width="0.12">DCIR-specific siRNA</text>
<polyline points="372.7,602.2 427.0,593.6 481.2,509.7" fill="none" stroke="#111" stroke-width="1.2" stroke-linejoin="miter"/>
<polyline points="372.7,602.4 427.0,586.6 481.2,477.7" fill="none" stroke="#111" stroke-width="1.2" stroke-linejoin="miter"/>
<polyline points="372.7,602.6 427.0,595.1 481.2,546.8" fill="none" stroke="#111" stroke-width="1.2" stroke-linejoin="miter"/>
<line x1="481.2" y1="472.6" x2="481.2" y2="482.4" stroke="#111" stroke-width="1.1"/>
<line x1="478.5" y1="472.6" x2="483.9" y2="472.6" stroke="#111" stroke-width="1.1"/>
<line x1="478.5" y1="482.4" x2="483.9" y2="482.4" stroke="#111" stroke-width="1.1"/>
<line x1="481.2" y1="499.7" x2="481.2" y2="518.0" stroke="#111" stroke-width="1.1"/>
<line x1="478.5" y1="499.7" x2="483.9" y2="499.7" stroke="#111" stroke-width="1.1"/>
<line x1="478.5" y1="518.0" x2="483.9" y2="518.0" stroke="#111" stroke-width="1.1"/>
<rect x="370.0" y="599.3" width="5.4" height="5.4" fill="#111"/>
<polygon points="424.2,595.86 429.8,595.86 427.0,590.5400000000001" fill="#111"/>
<rect x="424.9" y="584.5000000000001" width="4.199999999999999" height="4.199999999999999" fill="#fff" stroke="#111" stroke-width="1.4"/>
<rect x="424.4" y="592.6" width="5.2" height="5.2" fill="#111"/>
<rect x="479.0" y="475.5" width="4.4" height="4.4" fill="#fff" stroke="#111" stroke-width="1.4"/>
<polygon points="478.3,512.155 484.09999999999997,512.155 481.2,506.645" fill="#111"/>
<rect x="478.59999999999997" y="544.1999999999999" width="5.2" height="5.2" fill="#111"/>
<polygon points="433.20,591.93 434.05,593.39 435.71,593.75 434.58,595.01 434.75,596.70 433.20,596.01 431.65,596.70 431.82,595.01 430.69,593.75 432.35,593.39" fill="#111"/>
<polygon points="478.60,537.94 479.48,539.46 481.19,539.83 480.03,541.14 480.20,542.88 478.60,542.17 477.00,542.88 477.17,541.14 476.01,539.83 477.72,539.46" fill="#111"/>
<polygon points="484.60,537.94 485.48,539.46 487.19,539.83 486.03,541.14 486.20,542.88 484.60,542.17 483.00,542.88 483.17,541.14 482.01,539.83 483.72,539.46" fill="#111"/>
</svg>
</body></html>
